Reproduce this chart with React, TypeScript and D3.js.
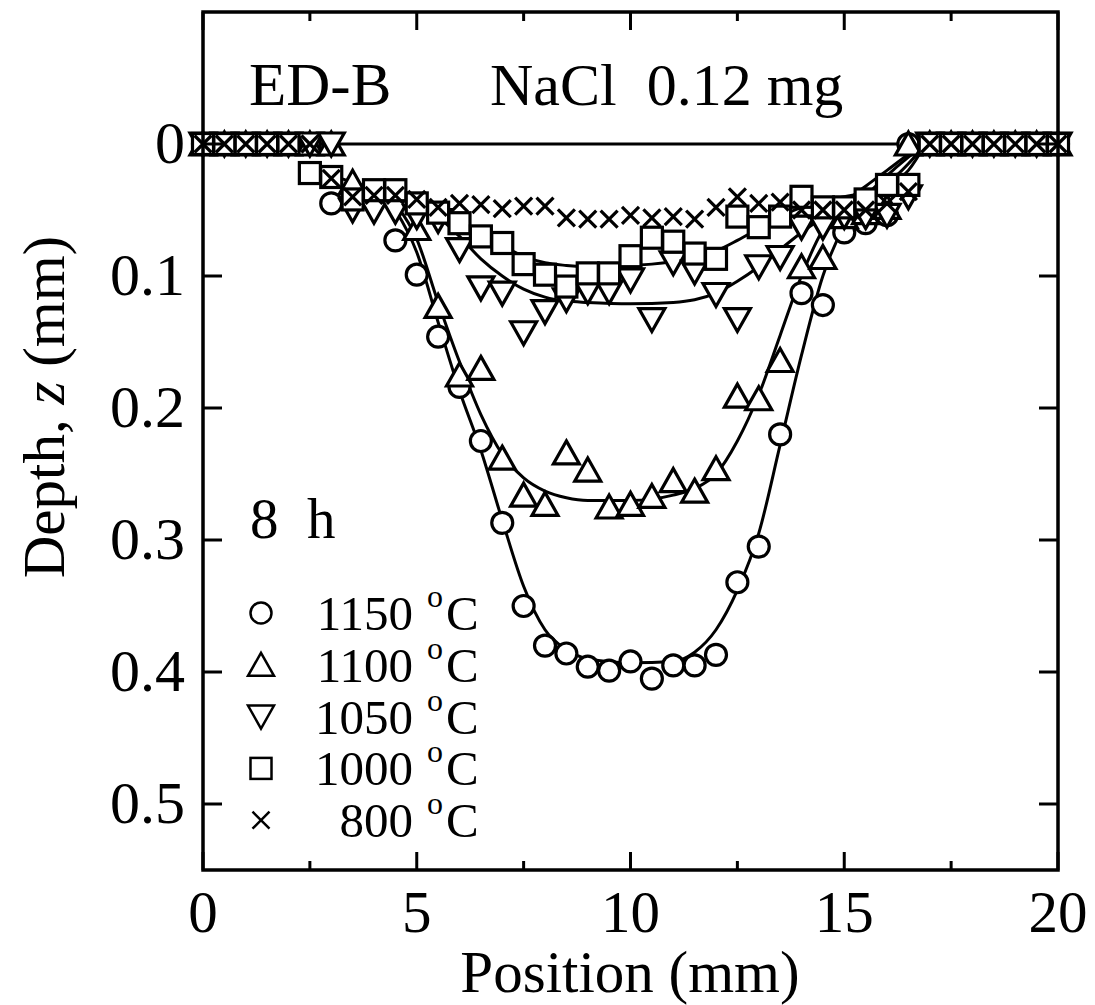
import { useEffect, useRef } from 'react'
import * as d3 from 'd3'

type Pt = [number, number]

// measured depths (mm) vs position (mm)
const s1150: Pt[] = [
  [0, 0], [0.5, 0], [1, 0], [1.5, 0], [2, 0], [2.5, 0],
  [3, 0.045], [4.5, 0.073], [5, 0.099], [5.5, 0.146], [6, 0.184], [6.5, 0.225],
  [7, 0.287], [7.5, 0.35], [8, 0.38], [8.5, 0.386], [9, 0.396], [9.5, 0.399],
  [10, 0.392], [10.5, 0.405], [11, 0.395], [11.5, 0.395], [12, 0.387], [12.5, 0.332],
  [13, 0.305], [13.5, 0.22], [14, 0.113], [14.5, 0.122], [15, 0.067], [15.5, 0.06],
  [16, 0.054], [16.5, 0],
  [17, 0], [17.5, 0], [18, 0], [18.5, 0], [19, 0], [19.5, 0], [20, 0],
]
const s1100: Pt[] = [
  [0, 0], [0.5, 0], [1, 0], [1.5, 0], [2, 0], [2.5, 0], [3, 0],
  [3.5, 0.029], [5, 0.064], [5.5, 0.123], [6, 0.175], [6.5, 0.17], [7, 0.238],
  [7.5, 0.266], [8, 0.273], [8.5, 0.234], [9, 0.247], [9.5, 0.275], [10, 0.273],
  [10.5, 0.267], [11, 0.255], [11.5, 0.263], [12, 0.246], [12.5, 0.191], [13, 0.193],
  [13.5, 0.164], [14, 0.093], [14.5, 0.086], [15, 0.055], [15.5, 0.052], [16, 0.048],
  [16.5, 0],
  [17, 0], [17.5, 0], [18, 0], [18.5, 0], [19, 0], [19.5, 0], [20, 0],
]
const s1050: Pt[] = [
  [0, 0], [0.5, 0], [1, 0], [1.5, 0], [2, 0], [2.5, 0], [3, 0],
  [3.5, 0.05], [4, 0.051], [4.5, 0.051], [5, 0.055], [5.5, 0.058], [6, 0.08],
  [6.5, 0.109], [7, 0.113], [7.5, 0.143], [8, 0.127], [8.5, 0.118], [9, 0.112],
  [9.5, 0.112], [10, 0.103], [10.5, 0.133], [11, 0.09], [11.5, 0.097], [12, 0.114],
  [12.5, 0.133], [13, 0.093], [13.5, 0.086], [14, 0.063], [14.5, 0.063], [15, 0.055],
  [15.5, 0.055], [16, 0.054], [16.5, 0.04],
  [17, 0], [17.5, 0], [18, 0], [18.5, 0], [19, 0], [19.5, 0], [20, 0],
]
const s1000: Pt[] = [
  [0, 0], [0.5, 0], [1, 0], [1.5, 0], [2, 0],
  [2.5, 0.022], [3, 0.025], [3.5, 0.042], [4, 0.035], [4.5, 0.035], [5, 0.045],
  [5.5, 0.052], [6, 0.06], [6.5, 0.07], [7, 0.075], [7.5, 0.091], [8, 0.099],
  [8.5, 0.108], [9, 0.098], [9.5, 0.098], [10, 0.085], [10.5, 0.071], [11, 0.074],
  [11.5, 0.083], [12, 0.087], [12.5, 0.055], [13, 0.063], [13.5, 0.055], [14, 0.04],
  [14.5, 0.048], [15, 0.048], [15.5, 0.042], [16, 0.031], [16.5, 0.031],
  [17, 0], [17.5, 0], [18, 0], [18.5, 0], [19, 0], [19.5, 0], [20, 0],
]
const s800: Pt[] = [
  [0, 0], [0.5, 0], [1, 0], [1.5, 0], [2, 0], [2.5, 0],
  [3, 0.026], [3.5, 0.04], [4, 0.039], [4.5, 0.039], [5, 0.042], [5.5, 0.048],
  [6, 0.045], [6.5, 0.046], [7, 0.049], [7.5, 0.047], [8, 0.047], [8.5, 0.056],
  [9, 0.057], [9.5, 0.057], [10, 0.054], [10.5, 0.056], [11, 0.055], [11.5, 0.057],
  [12, 0.048], [12.5, 0.04], [13, 0.045], [13.5, 0.044], [14, 0.05], [14.5, 0.05],
  [15, 0.05], [15.5, 0.05], [16, 0.045], [16.5, 0.036],
  [17, 0], [17.5, 0], [18, 0], [18.5, 0], [19, 0], [19.5, 0], [20, 0],
]

// fitted profiles
const fit1150: Pt[] = [
  [4, 0.03], [4.5, 0.05], [5, 0.082], [5.5, 0.135],
  [6, 0.187], [6.5, 0.232], [7, 0.285], [7.5, 0.335], [8, 0.368], [8.5, 0.383],
  [9, 0.39], [10, 0.393], [11, 0.392], [11.5, 0.385], [12, 0.368], [12.5, 0.338],
  [13, 0.295], [13.5, 0.228], [14, 0.16], [14.5, 0.1], [15, 0.062], [15.5, 0.04],
  [16, 0.024], [16.5, 0.01], [16.9, 0],
]
const fit1100: Pt[] = [
  [4, 0.028], [4.5, 0.045], [5, 0.072], [5.5, 0.12],
  [6, 0.165], [6.5, 0.205], [7, 0.235], [7.5, 0.253], [8, 0.263], [8.5, 0.268],
  [9, 0.27], [10, 0.27], [11, 0.266], [11.5, 0.261], [12, 0.25], [12.5, 0.225],
  [13, 0.19], [13.5, 0.145], [14, 0.1], [14.5, 0.065], [15, 0.045], [15.5, 0.032],
  [16, 0.02], [16.5, 0.008], [16.9, 0],
]
const fit1050: Pt[] = [
  [4.5, 0.032], [5, 0.042], [5.5, 0.055], [6, 0.07], [6.5, 0.087],
  [7, 0.1], [7.5, 0.11], [8, 0.116], [8.5, 0.119], [9, 0.12], [10, 0.121], [11, 0.12],
  [11.5, 0.118], [12, 0.113], [12.5, 0.104], [13, 0.093], [13.5, 0.08], [14, 0.067],
  [14.5, 0.056], [15, 0.048], [15.5, 0.04], [16, 0.03], [16.5, 0.015], [16.9, 0],
]
const fit1000: Pt[] = [
  [3, 0.024], [4, 0.034], [5, 0.045], [5.5, 0.052], [6, 0.06],
  [6.5, 0.068], [7, 0.077], [7.5, 0.085], [8, 0.09], [8.5, 0.092], [9, 0.093],
  [10, 0.092], [10.5, 0.091], [11, 0.089], [11.5, 0.086], [12, 0.081], [12.5, 0.073],
  [13, 0.064], [13.5, 0.055], [14, 0.048], [14.5, 0.044], [15, 0.04], [15.5, 0.037],
  [16, 0.032], [16.5, 0.02], [16.9, 0],
]

const legendLabels = ['1150', '1100', '1050', '1000', '800']
const legendShapes = ['circle', 'up', 'down', 'square', 'cross']
const xMajor = [0, 5, 10, 15, 20]
const xMinor = [2.5, 7.5, 12.5, 17.5]
const yMajor = [0, 0.1, 0.2, 0.3, 0.4, 0.5]

const FONT = "'Liberation Serif', 'Times New Roman', serif"

const App = () => {
  const ref = useRef<SVGSVGElement>(null)

  useEffect(() => {
    const width = 1095
    const height = 1005
    const svg = d3.select(ref.current)
    svg.selectAll('*').remove()
    svg.attr('width', width).attr('height', height)

    const x = d3.scaleLinear().domain([0, 20]).range([203, 1058])
    const y = d3.scaleLinear().domain([-0.1, 0.55]).range([12, 870])
    const [x0, x1] = x.range()
    const [y0, y1] = y.range()

    svg.append('rect').attr('width', width).attr('height', height).attr('fill', '#fff')

    // surface line
    svg.append('line')
      .attr('x1', x(0)).attr('x2', x(20)).attr('y1', y(0)).attr('y2', y(0))
      .attr('stroke', '#000').attr('stroke-width', 3)

    const line = d3.line<Pt>()
      .x(d => x(d[0]))
      .y(d => y(d[1]))
      .curve(d3.curveMonotoneX)

    ;[fit1150, fit1100, fit1050, fit1000].forEach(f => {
      svg.append('path')
        .attr('d', line(f))
        .attr('fill', 'none')
        .attr('stroke', '#000')
        .attr('stroke-width', 3)
    })

    const drawShape = (g: any, shape: string, cx: number, cy: number, sw: number) => {
      if (shape === 'circle') {
        g.append('circle').attr('cx', cx).attr('cy', cy).attr('r', 10.5)
          .attr('fill', '#fff').attr('stroke', '#000').attr('stroke-width', sw)
      } else if (shape === 'up') {
        g.append('path').attr('d', `M${cx},${cy - 12}L${cx + 13},${cy + 11}L${cx - 13},${cy + 11}Z`)
          .attr('fill', '#fff').attr('stroke', '#000').attr('stroke-width', sw).attr('stroke-linejoin', 'miter')
      } else if (shape === 'down') {
        g.append('path').attr('d', `M${cx},${cy + 12}L${cx + 13},${cy - 11}L${cx - 13},${cy - 11}Z`)
          .attr('fill', '#fff').attr('stroke', '#000').attr('stroke-width', sw).attr('stroke-linejoin', 'miter')
      } else if (shape === 'square') {
        g.append('rect').attr('x', cx - 10.5).attr('y', cy - 10.5).attr('width', 21).attr('height', 21)
          .attr('fill', '#fff').attr('stroke', '#000').attr('stroke-width', sw)
      } else {
        g.append('path').attr('d', `M${cx - 8.5},${cy - 8.5}L${cx + 8.5},${cy + 8.5}M${cx + 8.5},${cy - 8.5}L${cx - 8.5},${cy + 8.5}`)
          .attr('fill', 'none').attr('stroke', '#000').attr('stroke-width', sw)
      }
    }

    const series: [Pt[], string][] = [
      [s1150, 'circle'], [s1100, 'up'], [s1050, 'down'], [s1000, 'square'], [s800, 'cross'],
    ]
    series.forEach(([data, shape]) => {
      const g = svg.append('g')
      data.forEach(d => drawShape(g, shape, x(d[0]), y(d[1]), 3.2))
    })

    // frame and ticks
    svg.append('rect')
      .attr('x', x0).attr('y', y0).attr('width', x1 - x0).attr('height', y1 - y0)
      .attr('fill', 'none').attr('stroke', '#000').attr('stroke-width', 3.5)

    const ticks = svg.append('g').attr('stroke', '#000').attr('stroke-width', 3)
    xMajor.forEach(v => {
      ticks.append('line').attr('x1', x(v)).attr('x2', x(v)).attr('y1', y1).attr('y2', y1 - 18)
      ticks.append('line').attr('x1', x(v)).attr('x2', x(v)).attr('y1', y0).attr('y2', y0 + 18)
    })
    xMinor.forEach(v => {
      ticks.append('line').attr('x1', x(v)).attr('x2', x(v)).attr('y1', y1).attr('y2', y1 - 9)
      ticks.append('line').attr('x1', x(v)).attr('x2', x(v)).attr('y1', y0).attr('y2', y0 + 9)
    })
    yMajor.forEach(v => {
      ticks.append('line').attr('x1', x0).attr('x2', x0 + 19).attr('y1', y(v)).attr('y2', y(v))
      ticks.append('line').attr('x1', x1).attr('x2', x1 - 19).attr('y1', y(v)).attr('y2', y(v))
    })

    const txt = svg.append('g').attr('font-family', FONT).attr('fill', '#000')

    xMajor.forEach(v => {
      txt.append('text').attr('x', x(v)).attr('y', 932).attr('text-anchor', 'middle')
        .attr('font-size', 59).text(String(v))
    })
    yMajor.forEach(v => {
      txt.append('text').attr('x', 185).attr('y', y(v) + 19).attr('text-anchor', 'end')
        .attr('font-size', 60).text(v === 0 ? '0' : d3.format('.1f')(v))
    })

    txt.append('text').attr('x', 630).attr('y', 992).attr('text-anchor', 'middle')
      .attr('font-size', 59).text('Position (mm)')

    const yl = txt.append('text')
      .attr('transform', 'translate(64,407) rotate(-90)')
      .attr('text-anchor', 'middle').attr('font-size', 59)
    yl.append('tspan').text('Depth, ')
    yl.append('tspan').attr('font-style', 'italic').text('z')
    yl.append('tspan').text(' (mm)')

    txt.append('text').attr('x', 249).attr('y', 105).attr('font-size', 61).text('ED-B')
    txt.append('text').attr('x', 490).attr('y', 105).attr('font-size', 60)
      .style('white-space', 'pre').text('NaCl  0.12 mg')
    txt.append('text').attr('x', 250).attr('y', 538).attr('font-size', 57)
      .style('white-space', 'pre').text('8  h')

    // legend
    const lg = svg.append('g')
    legendLabels.forEach((lab, i) => {
      const base = 630 + i * 51.8
      drawShape(lg, legendShapes[i], 261, base - 17, 2.5)
      txt.append('text').attr('x', 413).attr('y', base).attr('text-anchor', 'end')
        .attr('font-size', 49).text(lab)
      txt.append('text').attr('x', 427).attr('y', base - 23).attr('font-size', 32).text('o')
      txt.append('text').attr('x', 446).attr('y', base).attr('font-size', 49).text('C')
    })
  }, [])

  return (
    <div style={{ position: 'absolute', left: 0, top: 0 }}>
      <svg ref={ref}></svg>
    </div>
  )
}

export default App
